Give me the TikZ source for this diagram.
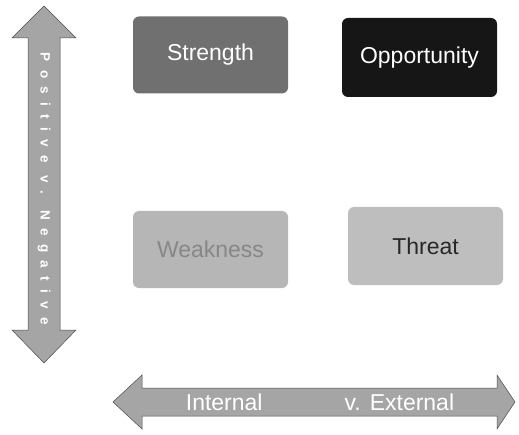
\documentclass[tikz,border=0pt]{standalone}
\usepackage{fontspec}
\setmainfont{Liberation Sans}
\usepackage{tikz}
\usetikzlibrary{positioning}
\definecolor{swStrength}{RGB}{112,112,112}
\definecolor{swOpport}{RGB}{22,22,22}
\definecolor{swWeak}{RGB}{182,182,182}
\definecolor{swThreat}{RGB}{190,190,190}
\definecolor{swAxis}{RGB}{165,165,165}
\definecolor{swWeakText}{RGB}{135,135,135}
\definecolor{swThreatText}{RGB}{40,40,40}

\begin{document}
\begin{tikzpicture}[
  x=1pt, y=1pt,
  font=\fontsize{23}{26}\selectfont,
  quad/.style={rounded corners=6pt, minimum width=155pt, minimum height=77pt, align=center},
  axis/.style={draw=black!70, line width=0.5pt, fill=swAxis},
  axlabel/.style={text=white, inner sep=0pt}
]
\useasboundingbox (0,0) rectangle (519,434);

% quadrants
\node[quad, fill=swStrength, text=white]     (str) at (210.5,379)   {Strength};
\node[quad, fill=swOpport, text=white, minimum height=79pt] (opp) at (419.5,376.5) {Opportunity};
\node[quad, fill=swWeak, text=swWeakText]    (weak) at (210.5,184.5) {Weakness};
\node[quad, fill=swThreat, text=swThreatText, minimum height=78pt] (thr) at (425.5,188) {Threat};

% vertical axis
\draw[axis] (44,428) -- (76,396) -- (60,396) -- (60,104) -- (76,104) -- (44,71)
  -- (12,104) -- (28,104) -- (28,396) -- (12,396) -- cycle;
\node[axlabel, rotate=-90, font=\fontsize{13.5}{16}\selectfont\bfseries\addfontfeature{LetterSpace=62}]
  (posneg) at (44,245) {Positive v. Negative};

% horizontal axis
\draw[axis] (113,32) -- (142,59) -- (142,46) -- (497,46) -- (497,59) -- (515,32)
  -- (497,5) -- (497,18) -- (142,18) -- (142,5) -- cycle;
\node[axlabel, text height=17pt, text depth=0pt] (intext) at (320,32)
  {Internal\hspace{82pt}v.\hspace{9pt}External};
\end{tikzpicture}
\end{document}
